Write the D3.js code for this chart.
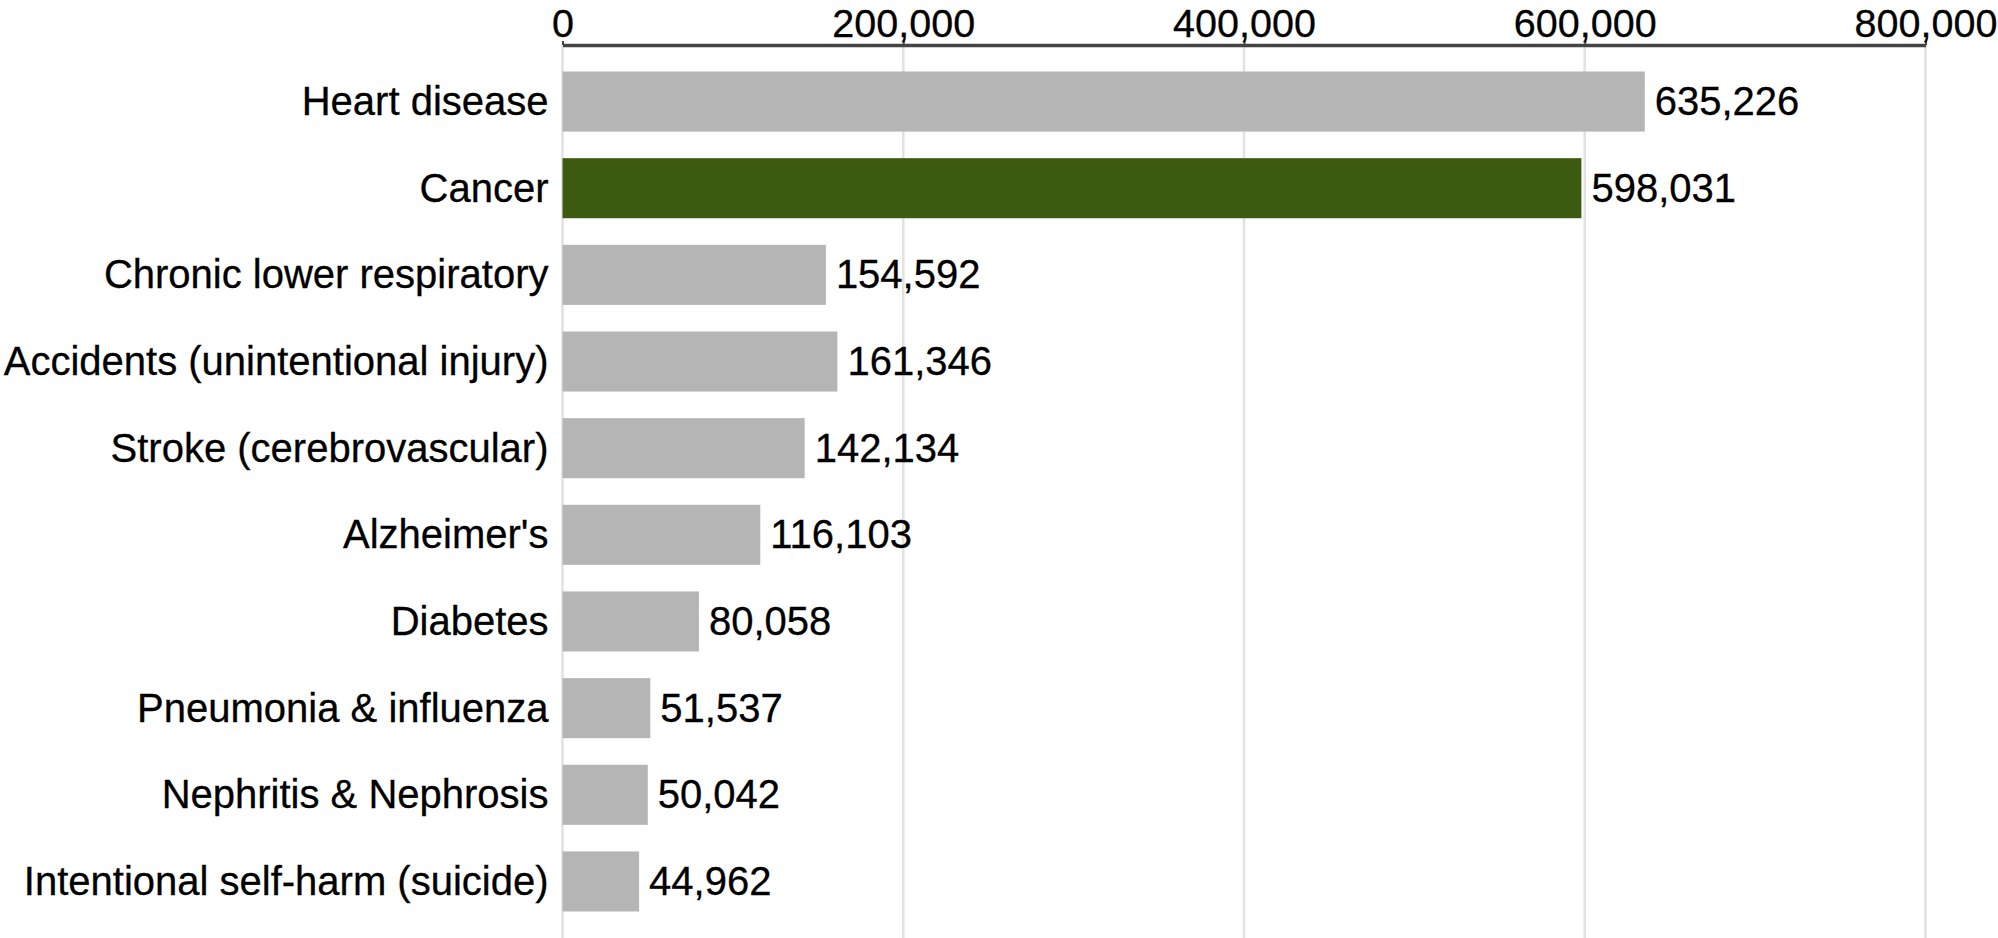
<!DOCTYPE html>
<html>
<head>
<meta charset="utf-8">
<script src="https://cdn.jsdelivr.net/npm/d3@7"></script>
<style>
  html, body { margin: 0; padding: 0; background: #fff; }
  svg { display: block; }
  text { font-family: "Liberation Sans", Arial, Helvetica, sans-serif; fill: #000; }
</style>
</head>
<body>
<svg id="chart" width="1998" height="938"></svg>
<script>
// Leading causes of death, annual counts
const causes = [
  "Heart disease",
  "Cancer",
  "Chronic lower respiratory",
  "Accidents (unintentional injury)",
  "Stroke (cerebrovascular)",
  "Alzheimer's",
  "Diabetes",
  "Pneumonia & influenza",
  "Nephritis & Nephrosis",
  "Intentional self-harm (suicide)"
];
const deaths = [635226, 598031, 154592, 161346, 142134, 116103, 80058, 51537, 50042, 44962];
const highlighted = ["Cancer"];
const tickValues = [0, 200000, 400000, 600000, 800000];

const rows = causes.map((c, i) => ({ cause: c, value: deaths[i] }));

const width = 1998, height = 938;
const svg = d3.select("#chart");

const x = d3.scaleLinear().domain([0, 800000]).range([562.5, 1925.5]);
const y = d3.scaleBand()
  .domain(causes)
  .range([45, 938])
  .paddingInner(0.307)
  .paddingOuter(0.306);

const fmt = d3.format(",");
const labelSize = 40;
const tickSize = 39.5;

// vertical gridlines
svg.append("g")
  .selectAll("line")
  .data(tickValues)
  .join("line")
  .attr("x1", d => x(d)).attr("x2", d => x(d))
  .attr("y1", 45).attr("y2", height)
  .attr("stroke", "#e2e2e2")
  .attr("stroke-width", 2.5);

// bars
svg.append("g")
  .selectAll("rect")
  .data(rows)
  .join("rect")
  .attr("x", x(0))
  .attr("y", d => y(d.cause))
  .attr("width", d => x(d.value) - x(0))
  .attr("height", y.bandwidth())
  .attr("fill", d => highlighted.includes(d.cause) ? "#3d5a11" : "#b5b5b5");

// value labels
svg.append("g")
  .selectAll("text")
  .data(rows)
  .join("text")
  .attr("x", d => x(d.value) + 10)
  .attr("y", d => y(d.cause) + y.bandwidth() / 2)
  .attr("dy", "0.34em")
  .style("font-size", labelSize + "px")
  .style("stroke", "#000")
  .style("stroke-width", 0.3)
  .text(d => fmt(d.value));

// category labels
svg.append("g")
  .selectAll("text")
  .data(rows)
  .join("text")
  .attr("x", x(0) - 14)
  .attr("y", d => y(d.cause) + y.bandwidth() / 2)
  .attr("dy", "0.34em")
  .attr("text-anchor", "end")
  .style("font-size", labelSize + "px")
  .style("stroke", "#000")
  .style("stroke-width", 0.3)
  .text(d => d.cause);

// top axis
const axis = d3.axisTop(x)
  .tickValues(tickValues)
  .tickFormat(fmt)
  .tickSizeInner(4)
  .tickSizeOuter(0)
  .tickPadding(4);

const gAxis = svg.append("g")
  .attr("transform", "translate(0,45)")
  .call(axis);

gAxis.select(".domain")
  .attr("stroke", "#444")
  .attr("stroke-width", 3.5);
gAxis.selectAll(".tick line")
  .attr("stroke", "#444")
  .attr("stroke-width", 2);
gAxis.selectAll(".tick text")
  .attr("fill", "#000")
  .style("font-size", tickSize + "px")
  .style("stroke", "#000")
  .style("stroke-width", 0.3)
  .style("font-family", "'Liberation Sans', Arial, Helvetica, sans-serif");
</script>
</body>
</html>
